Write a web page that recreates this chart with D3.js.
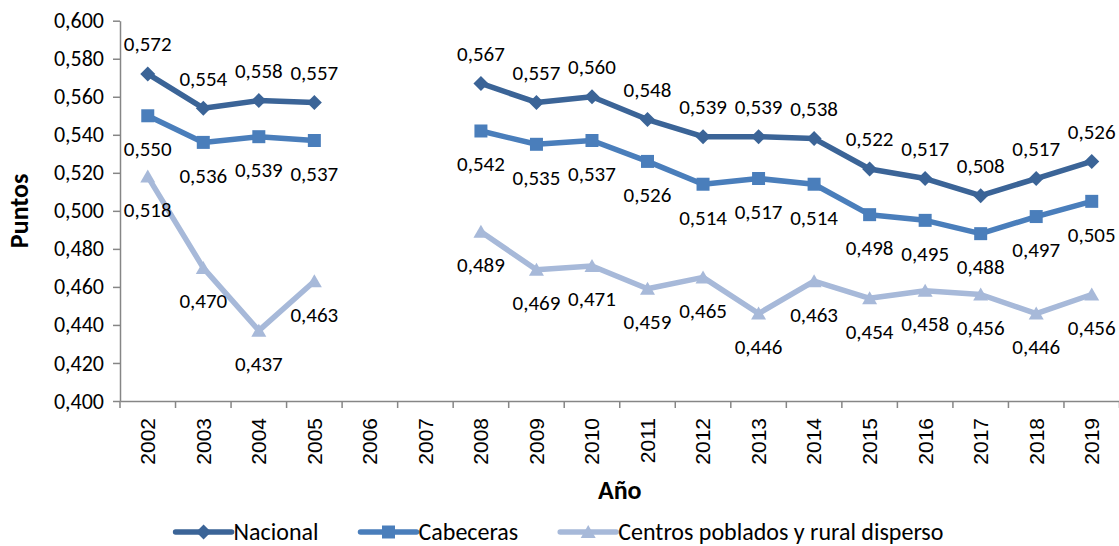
<!DOCTYPE html>
<html>
<head>
<meta charset="utf-8">
<script src="https://cdn.jsdelivr.net/npm/d3@7"></script>
<style>
  body { margin: 0; background: #fff; }
  svg { display: block; }
</style>
</head>
<body>
<div id="chart"></div>
<script>
// chart data
const years = ["2002", "2003", "2004", "2005", "2006", "2007", "2008", "2009", "2010",
    "2011", "2012", "2013", "2014", "2015", "2016", "2017", "2018", "2019"];
const nacional = [0.572, 0.554, 0.558, 0.557, null, null, 0.567, 0.557, 0.560,
    0.548, 0.539, 0.539, 0.538, 0.522, 0.517, 0.508, 0.517, 0.526];
const cabeceras = [0.550, 0.536, 0.539, 0.537, null, null, 0.542, 0.535, 0.537,
    0.526, 0.514, 0.517, 0.514, 0.498, 0.495, 0.488, 0.497, 0.505];
const centros = [0.518, 0.470, 0.437, 0.463, null, null, 0.489, 0.469, 0.471,
    0.459, 0.465, 0.446, 0.463, 0.454, 0.458, 0.456, 0.446, 0.456];
const seriesNames = ["Nacional", "Cabeceras", "Centros poblados y rural disperso"];
const yTicks = [0.400, 0.420, 0.440, 0.460, 0.480, 0.500, 0.520, 0.540, 0.560, 0.580, 0.600];

//dimensions
const W = 1119, H = 546;
const PLOT = { left: 120, right: 1119.5, top: 20.7, bottom: 401 };

const FONT = "Carlito, Calibri, Lato, sans-serif";
const AXIS_COLOR = "#868686";

const series = [
    { name: seriesNames[0], values: nacional, color: "#3b6497", marker: "diamond", labelPos: "above" },
    { name: seriesNames[1], values: cabeceras, color: "#4a7ebb", marker: "square", labelPos: "below" },
    { name: seriesNames[2], values: centros, color: "#a7b9d9", marker: "triangle", labelPos: "below" }
];

const commaFormat = d => d3.format(".3f")(d).replace(".", ",");

function markerPath(type) {
    if (type === "diamond") return "M0,-7.5L7.5,0L0,7.5L-7.5,0Z";
    if (type === "square") return "M-6.5,-6.5H6.5V6.5H-6.5Z";
    return "M0,-7L7.5,6L-7.5,6Z";
}

const svg = d3.select("#chart")
    .append("svg")
    .attr("width", W)
    .attr("height", H);

// scales
const xScale = d3.scaleBand()
    .domain(years)
    .range([PLOT.left, PLOT.right])
    .padding(0);
const xc = d => xScale(d) + xScale.bandwidth() / 2;

const yScale = d3.scaleLinear()
    .domain([0.4, 0.6])
    .range([PLOT.bottom, PLOT.top]);

// Y axis
const yAxis = svg.append("g")
    .attr("transform", `translate(${PLOT.left},0)`)
    .call(d3.axisLeft(yScale).tickValues(yTicks).tickSize(7).tickSizeOuter(0).tickPadding(9).tickFormat(commaFormat));
yAxis.select(".domain").attr("stroke", AXIS_COLOR).attr("stroke-width", 1.5);
yAxis.selectAll(".tick line").attr("stroke", AXIS_COLOR).attr("stroke-width", 1.5);
yAxis.selectAll(".tick text")
    .attr("font-family", FONT)
    .attr("font-size", "22px")
    .attr("fill", "#000");

// X axis: boundaries between categories get the tick marks
const xAxis = svg.append("g")
    .attr("transform", `translate(0,${PLOT.bottom})`)
    .call(d3.axisBottom(xScale).tickSize(0).tickSizeOuter(0).tickFormat(""));
xAxis.select(".domain").attr("stroke", AXIS_COLOR).attr("stroke-width", 1.5);

const bounds = years.map(d => xScale(d)).concat([xScale.range()[1]]);
xAxis.selectAll(".bound")
    .data(bounds)
    .enter()
    .append("line")
    .attr("class", "bound")
    .attr("x1", d => d).attr("x2", d => d)
    .attr("y1", 0).attr("y2", 7)
    .attr("stroke", AXIS_COLOR)
    .attr("stroke-width", 1.5);

svg.append("g").selectAll("text")
    .data(years)
    .enter()
    .append("text")
    .attr("transform", d => `translate(${xc(d)},${PLOT.bottom + 17}) rotate(-90)`)
    .attr("dy", "0.35em")
    .attr("text-anchor", "end")
    .attr("font-family", "'Liberation Sans', Arial, sans-serif")
    .attr("font-size", "21px")
    .attr("fill", "#000")
    .text(d => d);

// axis titles
svg.append("text")
    .attr("transform", `translate(28,${(PLOT.top + PLOT.bottom) / 2}) rotate(-90)`)
    .attr("text-anchor", "middle")
    .attr("font-family", FONT)
    .attr("font-weight", "bold")
    .attr("font-size", "26px")
    .text("Puntos");

svg.append("text")
    .attr("x", (PLOT.left + PLOT.right) / 2)
    .attr("y", 499)
    .attr("text-anchor", "middle")
    .attr("font-family", FONT)
    .attr("font-weight", "bold")
    .attr("font-size", "26px")
    .text("Año");

// lines, markers and labels
const line = d3.line()
    .defined(d => d.v !== null)
    .x(d => xc(d.year))
    .y(d => yScale(d.v));

series.forEach(s => {
    const pts = years.map((year, i) => ({ year, v: s.values[i] }));
    const g = svg.append("g");

    g.append("path")
        .datum(pts)
        .attr("fill", "none")
        .attr("stroke", s.color)
        .attr("stroke-width", 5.5)
        .attr("stroke-linejoin", "round")
        .attr("stroke-linecap", "round")
        .attr("d", line);

    const valid = pts.filter(d => d.v !== null);

    g.selectAll(".marker")
        .data(valid)
        .enter()
        .append("path")
        .attr("class", "marker")
        .attr("transform", d => `translate(${xc(d.year)},${yScale(d.v)})`)
        .attr("d", markerPath(s.marker))
        .attr("fill", s.color);

    g.selectAll(".val")
        .data(valid)
        .enter()
        .append("text")
        .attr("class", "val")
        .attr("x", d => xc(d.year))
        .attr("y", d => yScale(d.v) + (s.labelPos === "above" ? -30 : 33))
        .attr("dy", "0.35em")
        .attr("text-anchor", "middle")
        .attr("font-family", FONT)
        .attr("font-size", "21px")
        .attr("fill", "#000")
        .text(d => commaFormat(d.v));
});

// legend
const legend = svg.append("g");
let lx = 0;
series.forEach(s => {
    const item = legend.append("g").attr("transform", `translate(${lx},0)`);
    item.append("line")
        .attr("x1", 0).attr("x2", 56)
        .attr("y1", 0).attr("y2", 0)
        .attr("stroke", s.color)
        .attr("stroke-width", 5.5)
        .attr("stroke-linecap", "round");
    item.append("path")
        .attr("transform", "translate(28,0)")
        .attr("d", markerPath(s.marker))
        .attr("fill", s.color);
    const t = item.append("text")
        .attr("x", 58)
        .attr("dy", "0.35em")
        .attr("font-family", FONT)
        .attr("font-size", "24px")
        .attr("fill", "#000")
        .text(s.name);
    lx += 58 + t.node().getComputedTextLength() + 42;
});
const legendWidth = lx - 42;
legend.attr("transform", `translate(${(W - legendWidth) / 2},532)`);
</script>
</body>
</html>
